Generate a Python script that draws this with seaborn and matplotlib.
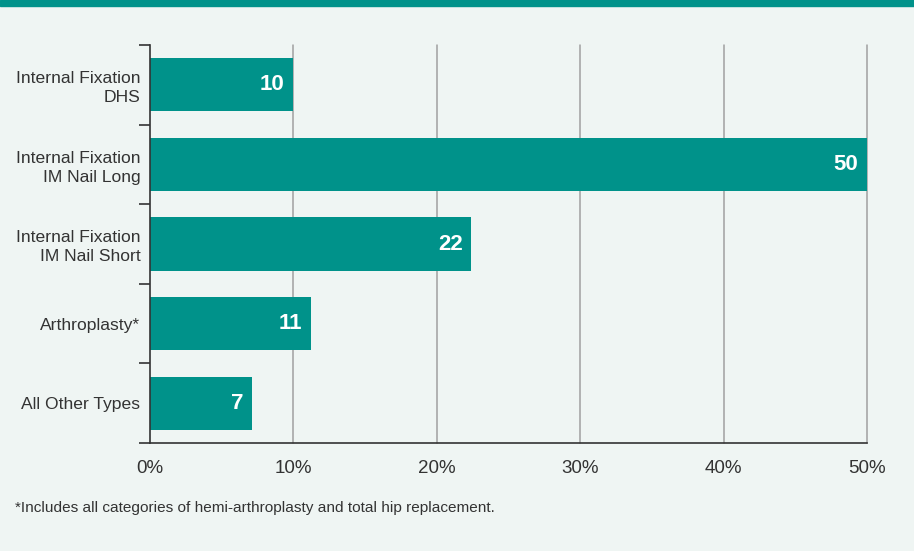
import matplotlib
matplotlib.use("Agg")
import matplotlib.pyplot as plt
import matplotlib.patches as mpatches
from matplotlib.ticker import FixedLocator, PercentFormatter
import pandas as pd
import seaborn as sns

# Share of procedures by fixation type (%)
categories = [
    "Internal Fixation\nDHS",
    "Internal Fixation\nIM Nail Long",
    "Internal Fixation\nIM Nail Short",
    "Arthroplasty*",
    "All Other Types",
]
shares = [10.0, 50.0, 22.4, 11.2, 7.1]
x_ticks = [0, 10, 20, 30, 40, 50]
footnote = "*Includes all categories of hemi-arthroplasty and total hip replacement."

BG = "#eff5f3"
TEAL = "#00928a"
TEXT = "#333333"
GRID = "#a0a0a0"

sns.set_theme(style="white")
plt.rcParams["font.family"] = ["Liberation Sans", "DejaVu Sans"]

df = pd.DataFrame({"category": categories, "share": shares})

fig = plt.figure(figsize=(9.14, 5.51), dpi=100, facecolor=BG)
ax = fig.add_axes([150 / 914, 1 - 443 / 551, (867 - 150) / 914, (443 - 45) / 551])
ax.set_facecolor(BG)

sns.barplot(data=df, x="share", y="category", orient="h", color=TEAL,
            saturation=1, width=0.67, linewidth=0, ax=ax, zorder=3)

# value labels inside the bar ends
for bar, v in zip(ax.patches, shares):
    ax.text(bar.get_width() - 0.6, bar.get_y() + bar.get_height() / 2,
            f"{round(v)}", ha="right", va="center", color="white",
            fontsize=16, fontweight="bold", zorder=4)

ax.set_xlim(0, 50)
ax.set_ylim(len(categories) - 0.5, -0.5)
ax.set_xlabel("")
ax.set_ylabel("")

# x axis: percent labels, vertical grid, one tick mark at the origin
ax.xaxis.set_major_locator(FixedLocator(x_ticks))
ax.xaxis.set_major_formatter(PercentFormatter(decimals=0))
ax.tick_params(axis="x", which="major", bottom=False, length=0,
               labelsize=13.5, labelcolor=TEXT, pad=12)
ax.xaxis.set_minor_locator(FixedLocator([0]))
ax.tick_params(axis="x", which="minor", bottom=True, length=8, width=1.2, color=TEXT)
for x in x_ticks[1:]:
    ax.axvline(x, color=GRID, lw=1.1, zorder=1, clip_on=False)

# y axis: labels at centers, tick marks at category boundaries
ax.tick_params(axis="y", which="major", left=False, length=0, pad=7,
               labelsize=12.6, labelcolor=TEXT)
for lbl in ax.get_yticklabels():
    lbl.set_linespacing(1.3)
ax.yaxis.set_minor_locator(FixedLocator([i - 0.5 for i in range(len(categories) + 1)]))
ax.tick_params(axis="y", which="minor", left=True, length=8, width=1.2, color=TEXT)

for side in ("top", "right"):
    ax.spines[side].set_visible(False)
for side in ("left", "bottom"):
    ax.spines[side].set_color(TEXT)
    ax.spines[side].set_linewidth(1.2)
    ax.spines[side].set_zorder(5)

# teal band across the top edge
fig.patches.append(mpatches.Rectangle((0, 1 - 6 / 551), 1, 6 / 551,
                                      transform=fig.transFigure,
                                      color=TEAL, zorder=0))

fig.text(15 / 914, 1 - 508 / 551, footnote, ha="left", va="center",
         fontsize=11.1, color=TEXT)

fig.savefig("out.png", dpi=100, facecolor=BG)
